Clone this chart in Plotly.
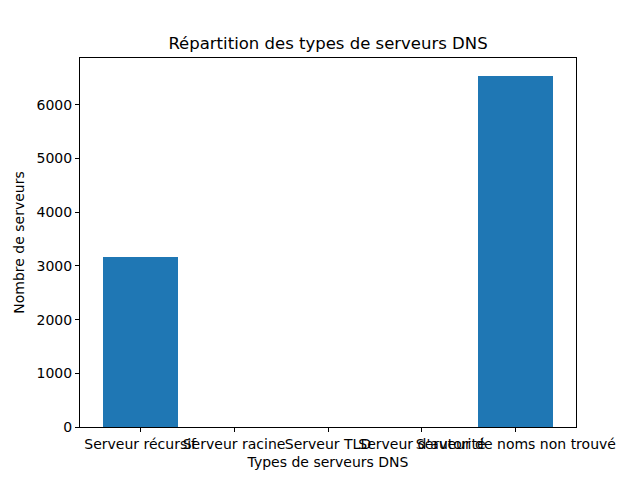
import plotly.graph_objects as go

categories = ["Serveur récursif", "Serveur racine", "Serveur TLD", "Serveur d'autorité", "Serveur de noms non trouvé"]
counts = [3164, 0, 0, 0, 6546]
positions = list(range(len(categories)))
y_ticks = [0, 1000, 2000, 3000, 4000, 5000, 6000]

font = dict(family="DejaVu Sans", size=14, color="black")

fig = go.Figure(go.Bar(x=positions, y=counts, width=0.8, marker=dict(color="#1f77b4", line=dict(width=0))))

ymax = max(counts) * 1.05
fig.update_layout(
    width=640, height=480,
    margin=dict(l=72, r=72, t=50, b=61, pad=0),
    paper_bgcolor="white", plot_bgcolor="white",
    font=font,
    showlegend=False,
    title=dict(text="Répartition des types de serveurs DNS", x=(328 - 8) / 640, xanchor="center",
               y=1 - 35 / 480, yanchor="middle", font=dict(family="DejaVu Sans", size=16.5, color="black")),
    bargap=0,
)
fig.update_xaxes(
    range=[-0.64, 4.64], tickmode="array", tickvals=positions, ticktext=categories, tickangle=0,
    showline=True, linecolor="black", linewidth=1, mirror=True,
    ticks="outside", ticklen=4, tickcolor="black", showgrid=False, zeroline=False,
    title=dict(text="Types de serveurs DNS", standoff=6, font=font),
    automargin=False,
)
fig.update_yaxes(
    range=[0, ymax], tickmode="array", tickvals=y_ticks, ticktext=[str(v) for v in y_ticks],
    showline=True, linecolor="black", linewidth=1, mirror=True,
    ticks="outside", ticklen=4, tickcolor="black", showgrid=False, zeroline=False,
    title=dict(text="Nombre de serveurs", standoff=8, font=font),
    automargin=False,
)

fig.write_html("out.html")
